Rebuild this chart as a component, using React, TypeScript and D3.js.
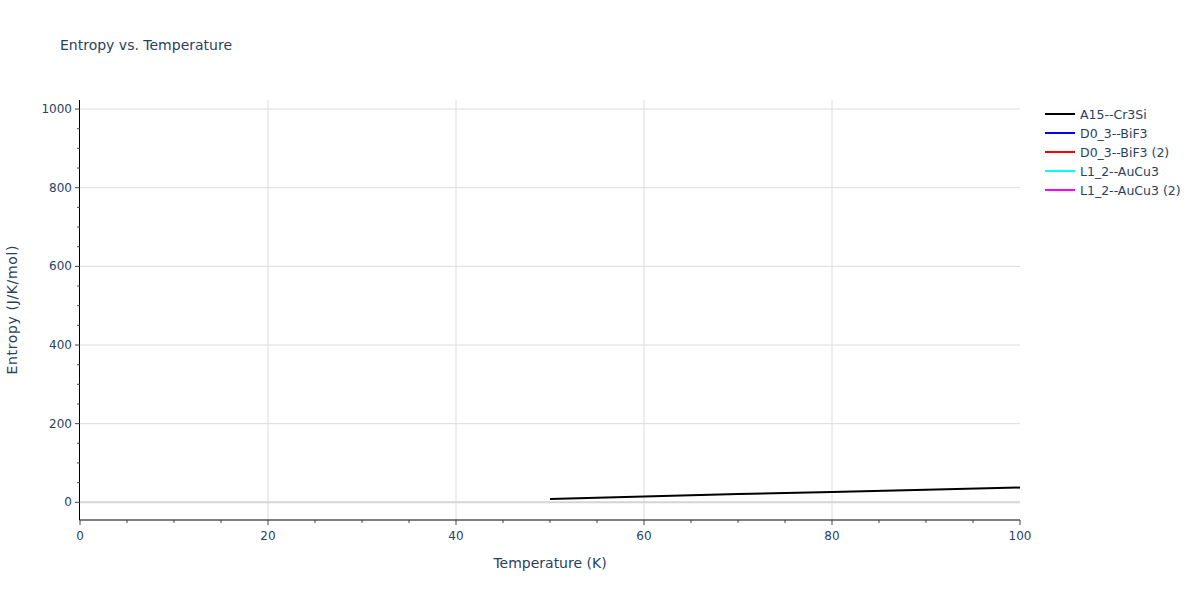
import React from "react";
import * as d3 from "d3";

const seriesNames = ["A15--Cr3Si", "D0_3--BiF3", "D0_3--BiF3 (2)", "L1_2--AuCu3", "L1_2--AuCu3 (2)"];
const seriesColors = ["#000000", "#0000ff", "#ff0000", "#00ffff", "#ff00ff"];
const temperature = [50, 60, 70, 80, 90, 100];
const entropyA15 = [8.5, 15, 21, 26.5, 32, 37.5];
const xTicks = [0, 20, 40, 60, 80, 100];
const yTicks = [0, 200, 400, 600, 800, 1000];

const W = 1200, H = 600;
const ML = 80, MR = 180, MT = 100, MB = 80;
const font = "'DejaVu Sans', verdana, sans-serif";
const txt = "#2a3f5f";

export default function App() {
  const x = d3.scaleLinear().domain([0, 100]).range([ML, W - MR]);
  const y = d3.scaleLinear().domain([-45, 1023]).range([H - MB, MT]);
  const line = d3.line<number>().x((_, i) => x(temperature[i])).y((d) => y(d));
  const xMinor = d3.range(0, 101, 5).filter((v) => v % 20 !== 0);
  const yMinor = d3.range(-0, 1001, 50).filter((v) => v % 200 !== 0);
  const bottom = H - MB;
  return (
    <svg width={W} height={H} style={{ position: "absolute", left: 0, top: 0, background: "#fff" }} fontFamily={font}>
      <rect x={0} y={0} width={W} height={H} fill="#fff" />
      {xTicks.filter((v) => v > 0 && v < 100).map((v) => (
        <line key={"gx" + v} x1={x(v)} x2={x(v)} y1={MT} y2={bottom} stroke="#dcdcdc" strokeWidth={1} />
      ))}
      {yTicks.filter((v) => v !== 0).map((v) => (
        <line key={"gy" + v} x1={ML} x2={W - MR} y1={y(v)} y2={y(v)} stroke="#dcdcdc" strokeWidth={1} />
      ))}
      <line x1={ML} x2={W - MR} y1={y(0)} y2={y(0)} stroke="#d4d4d4" strokeWidth={2} />
      <path d={line(entropyA15) || ""} fill="none" stroke={seriesColors[0]} strokeWidth={2} />
      {/* axes */}
      <line x1={ML - 0.5} x2={W - MR} y1={bottom} y2={bottom} stroke="#000" strokeWidth={1} />
      <line x1={ML - 0.5} x2={ML - 0.5} y1={MT} y2={bottom} stroke="#000" strokeWidth={1} />
      {xTicks.map((v) => (
        <g key={"xt" + v}>
          <line x1={x(v)} x2={x(v)} y1={bottom} y2={bottom + 5} stroke="#444" strokeWidth={1} />
          <text x={x(v)} y={bottom + 20} textAnchor="middle" fontSize={12} fill={txt}>{v}</text>
        </g>
      ))}
      {xMinor.map((v) => (
        <line key={"xm" + v} x1={x(v)} x2={x(v)} y1={bottom} y2={bottom + 3} stroke="#444" strokeWidth={1} />
      ))}
      {yTicks.map((v) => (
        <g key={"yt" + v}>
          <line x1={ML - 5} x2={ML} y1={y(v)} y2={y(v)} stroke="#444" strokeWidth={1} />
          <text x={ML - 8} y={y(v) + 4} textAnchor="end" fontSize={12} fill={txt}>{v}</text>
        </g>
      ))}
      {yMinor.map((v) => (
        <line key={"ym" + v} x1={ML - 3} x2={ML} y1={y(v)} y2={y(v)} stroke="#444" strokeWidth={1} />
      ))}
      <text x={(ML + W - MR) / 2} y={568} textAnchor="middle" fontSize={14} fill={txt}>Temperature (K)</text>
      <text transform={`translate(17,${(MT + bottom) / 2}) rotate(-90)`} textAnchor="middle" fontSize={14} fill={txt} textLength={129} lengthAdjust="spacing">Entropy (J/K/mol)</text>
      <text x={60} y={50} fontSize={14} fill={txt}>Entropy vs. Temperature</text>
      {seriesNames.map((n, i) => (
        <g key={n} transform={`translate(1045,${114 + i * 19})`}>
          <line x1={0} x2={30} y1={0} y2={0} stroke={seriesColors[i]} strokeWidth={2} />
          <text x={35} y={4.5} fontSize={12.5} fill={txt}>{n}</text>
        </g>
      ))}
    </svg>
  );
}
